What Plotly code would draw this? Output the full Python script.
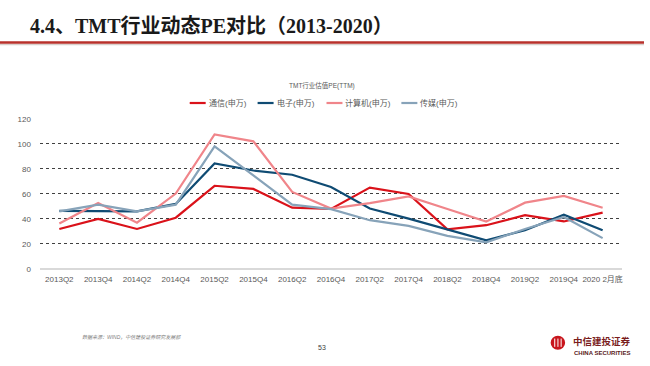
import plotly.graph_objects as go

# ---------------- data ----------------
categories = ["2013Q2", "2013Q4", "2014Q2", "2014Q4", "2015Q2", "2015Q4", "2016Q2",
              "2016Q4", "2017Q2", "2017Q4", "2018Q2", "2018Q4", "2019Q2", "2019Q4",
              "2020 2月底"]
tongxin = [32, 40, 32, 41, 66.5, 64, 49, 48, 65, 60, 31.7, 35, 43, 38, 45]
dianzi = [46.5, 46.5, 46, 52, 84.4, 78.7, 75.3, 65.5, 48.3, 40.3, 31.7, 22.9, 31, 43.4, 31]
jisuanji = [36.4, 52.7, 37, 60.3, 107.5, 102, 61.6, 48.3, 52.7, 58, 48, 38, 53, 58.4, 49]
chuanmei = [46, 51.4, 46, 51.4, 98, 75, 51.4, 47.8, 39, 34.5, 26.5, 21.3, 32, 41.6, 24.7]
series_names = ["通信(申万)", "电子(申万)", "计算机(申万)", "传媒(申万)"]
series_values = [tongxin, dianzi, jisuanji, chuanmei]
y_ticks = [0, 20, 40, 60, 80, 100, 120]

title_text = "4.4、TMT行业动态PE对比（2013-2020）"
chart_title = "TMT行业估值PE(TTM)"
source_text = "数据来源：WIND，中信建投证券研究发展部"
page_no = "53"

# ---------------- style ----------------
W, H = 650, 366
colors = ["#DA121A", "#0F4B73", "#F0858A", "#87A3B9"]
FONT = "Liberation Sans, Arial, Noto Sans CJK SC, sans-serif"


def px(x):
    return x / W


def py(y):
    return 1 - y / H


fig = go.Figure()
for name, vals, col in zip(series_names, series_values, colors):
    fig.add_trace(go.Scatter(x=categories, y=vals, mode="lines", name=name,
                             line=dict(color=col, width=2.2), showlegend=False,
                             hoverinfo="skip"))

plot_left, plot_right = 40, 623
plot_top, plot_bottom = 117.7, 271.7

fig.update_layout(
    width=W, height=H, autosize=False,
    margin=dict(l=0, r=0, t=0, b=0),
    paper_bgcolor="white", plot_bgcolor="white",
    font=dict(family=FONT, size=8, color="#595959"),
    xaxis=dict(domain=[px(plot_left), px(plot_right)], type="category",
               range=[-0.5, len(categories) - 0.5], showgrid=False,
               zeroline=False, showline=False, ticks="",
               tickfont=dict(size=8, color="#595959"), ticklabelstandoff=4,
               fixedrange=True),
    yaxis=dict(domain=[py(plot_bottom), py(plot_top)], range=[0, 120],
               tickvals=y_ticks, showgrid=True, gridcolor="#404040",
               griddash="dot", gridwidth=1, zeroline=True,
               zerolinecolor="#D9D9D9", zerolinewidth=1.5, showline=False,
               ticks="", tickfont=dict(size=8, color="#595959"),
               ticklabelstandoff=8, fixedrange=True),
)

shapes = []
annotations = []

# header title and rule
annotations.append(dict(text="<b>" + title_text + "</b>", xref="paper", yref="paper",
                        x=px(28), y=py(22), xanchor="left", yanchor="middle",
                        showarrow=False,
                        font=dict(family="Liberation Serif, Noto Sans CJK SC, serif",
                                  size=20, color="#1A1A1A")))
shapes.append(dict(type="line", xref="paper", yref="paper", x0=px(0), x1=px(645),
                   y0=py(41.5), y1=py(41.5), line=dict(color="#D8D0CC", width=1.5)))
shapes.append(dict(type="line", xref="paper", yref="paper", x0=px(0), x1=px(645),
                   y0=py(39.5), y1=py(39.5), line=dict(color="#B8312B", width=2.5)))

# chart title
annotations.append(dict(text=chart_title, xref="paper", yref="paper",
                        x=px(322), y=py(83.5), xanchor="center", yanchor="middle",
                        showarrow=False, font=dict(size=6.5, color="#595959")))

# legend (manual)
leg_line_x = [190, 258, 327, 402]
leg_y = 101.5
for lx, name, col in zip(leg_line_x, series_names, colors):
    shapes.append(dict(type="line", xref="paper", yref="paper", x0=px(lx),
                       x1=px(lx + 16), y0=py(leg_y), y1=py(leg_y),
                       line=dict(color=col, width=2.2)))
    annotations.append(dict(text=name, xref="paper", yref="paper", x=px(lx + 17),
                            y=py(leg_y), xanchor="left", yanchor="middle",
                            showarrow=False, font=dict(size=8, color="#595959")))

# footer
annotations.append(dict(text="<i>" + source_text + "</i>", xref="paper", yref="paper",
                        x=px(80), y=py(341), xanchor="left", yanchor="middle",
                        showarrow=False, font=dict(size=5, color="#7F7F7F")))
annotations.append(dict(text=page_no, xref="paper", yref="paper",
                        x=px(322), y=py(352), xanchor="center", yanchor="middle",
                        showarrow=False, font=dict(size=7, color="#404040")))

# logo
shapes.append(dict(type="circle", xref="paper", yref="paper", x0=px(551.5), x1=px(566),
                   y0=py(354.5), y1=py(340), fillcolor="#C8161D", line=dict(width=0)))
for dx in (-3.2, 0, 3.2):
    shapes.append(dict(type="line", xref="paper", yref="paper", x0=px(558.8 + dx),
                       x1=px(558.8 + dx), y0=py(343), y1=py(351.5),
                       line=dict(color="white", width=1)))
annotations.append(dict(text="<b>中信建投证券</b>", xref="paper", yref="paper",
                        x=px(572), y=py(345), xanchor="left", yanchor="middle",
                        showarrow=False,
                        font=dict(family="Noto Sans CJK SC, sans-serif", size=9.5,
                                  color="#7A1C1C")))
annotations.append(dict(text="<b>CHINA SECURITIES</b>", xref="paper", yref="paper",
                        x=px(573), y=py(357.5), xanchor="left", yanchor="middle",
                        showarrow=False, font=dict(size=6, color="#5A2020")))

fig.update_layout(shapes=shapes, annotations=annotations)
fig.write_html("out.html", config={"displayModeBar": False, "staticPlot": True},
               post_script="document.body.style.margin='0px';"
                           "document.body.style.overflow='hidden';")
